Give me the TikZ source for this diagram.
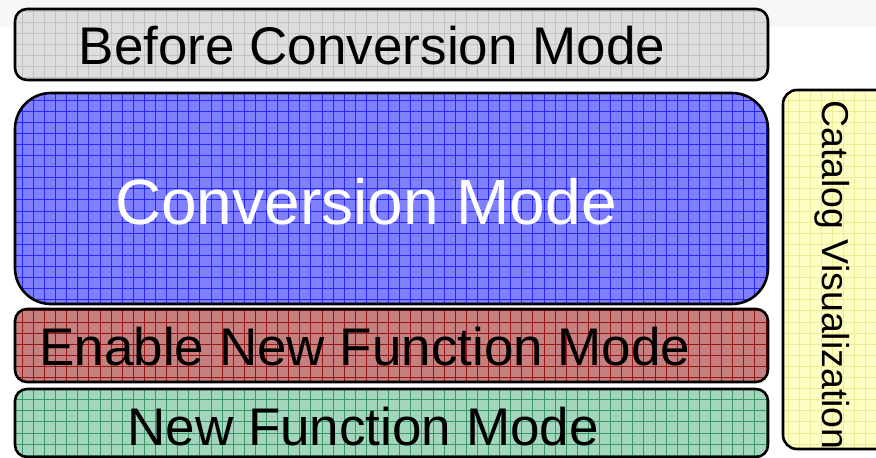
\documentclass[tikz,border=0pt]{standalone}
\usepackage{fontspec}
\setmainfont{Liberation Sans}
\definecolor{grayfill}{HTML}{DEDEDE}
\definecolor{graygrid}{HTML}{C2C2C2}
\definecolor{bluefill}{HTML}{8080FF}
\definecolor{bluegrid}{HTML}{2626FF}
\definecolor{redfill}{HTML}{C68080}
\definecolor{redgrid}{HTML}{961515}
\definecolor{greenfill}{HTML}{A4D6BD}
\definecolor{greengrid}{HTML}{3A9868}
\definecolor{yellowfill}{HTML}{FFFFC4}
\definecolor{yellowgrid}{HTML}{EDED98}
\definecolor{topband}{HTML}{F7F7F7}
% #1 fill, #2 grid colour, #3 corner radius, #4 and #5 opposite corners
\newcommand\gridpanel[5]{%
  \begin{scope}
    \clip[rounded corners=#3] #4 rectangle #5;
    \fill[#1] #4 rectangle #5;
    \draw[#2, line width=0.7pt, step=11.1pt] #4 grid #5;
  \end{scope}
  \draw[panelborder, rounded corners=#3] #4 rectangle #5;
}
\tikzset{
  panelborder/.style={draw=black, line width=2.6pt},
  label/.style={font=\fontsize{53}{60}\selectfont, inner sep=0pt, anchor=base}
}
\begin{document}
\begin{tikzpicture}[x=1pt, y=-1pt]
  \useasboundingbox (0,0) rectangle (876,458);
  \fill[white] (0,0) rectangle (876,458);
  \fill[topband] (0,0) rectangle (876,27);

  \gridpanel{grayfill}{graygrid}{12pt}{(15,9)}{(768,80)}
  \gridpanel{bluefill}{bluegrid}{36pt}{(15,93)}{(768,304)}
  \gridpanel{redfill}{redgrid}{12pt}{(15,309)}{(768,382)}
  \gridpanel{greenfill}{greengrid}{12pt}{(15,389)}{(768,457)}
  \gridpanel{yellowfill}{yellowgrid}{14pt}{(783,90)}{(895,449)}

  \node[label] (before) at (372,64) {Before Conversion Mode};
  \node[label, font=\fontsize{64}{70}\selectfont, text=white] (conv) at (366,224) {Conversion Mode};
  \node[label] (enable) at (365,365) {Enable New Function Mode};
  \node[label] (newfn) at (363,445) {New Function Mode};
  \node[inner sep=0pt, anchor=base west, rotate=-90, font=\fontsize{37.5}{44}\selectfont] (catalog) at (822,100) {Catalog Visualization};
\end{tikzpicture}
\end{document}
